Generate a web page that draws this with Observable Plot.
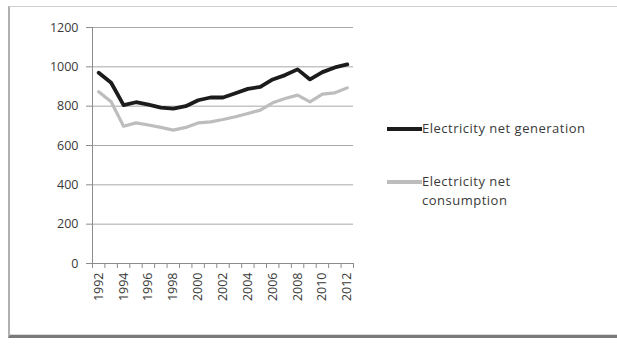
<!DOCTYPE html>
<html>
<head>
<meta charset="utf-8">
<script src="https://cdn.jsdelivr.net/npm/d3@7"></script>
<script src="https://cdn.jsdelivr.net/npm/@observablehq/plot@0.6"></script>
<style>
  html, body { margin: 0; padding: 0; background: #fff; overflow: hidden; }
  #wrap { position: relative; width: 617px; height: 344px; overflow: hidden; font-family: "Open Sans", sans-serif; }
  #frame { position: absolute; left: 8px; top: 6px; width: 700px; height: 328px;
           border-top: 1px solid #cfcfcf; border-left: 2px solid #b0b0b0; border-bottom: 3px solid #7a7a7a;
           box-shadow: 0 -1px 0 #d8d8d8 inset; }
  #chart { position: absolute; left: 0; top: 0; }
  .leg { position: absolute; left: 387px; font-size: 13px; letter-spacing: 0.5px; color: #3a3a3a; display: flex; align-items: flex-start; line-height: 19px; }
  .sw { width: 35px; height: 4px; margin-top: 8px; flex: none; }
</style>
</head>
<body>
<div id="wrap">
  <div id="frame"></div>
  <div id="chart"></div>
  <div class="leg" style="top:119px"><div class="sw" style="background:#1c1c1c"></div><div>Electricity net generation</div></div>
  <div class="leg" style="top:172px"><div class="sw" style="background:#bdbdbd;height:3.5px"></div><div>Electricity net<br>consumption</div></div>
</div>
<script>
const years = [1992,1993,1994,1995,1996,1997,1998,1999,2000,2001,2002,2003,2004,2005,2006,2007,2008,2009,2010,2011,2012];
const generation = [970,919,805,820,808,793,788,800,830,844,844,866,888,898,936,958,987,936,973,997,1012];
const consumption = [873,822,698,715,704,692,678,692,715,720,732,746,763,780,817,839,856,822,861,868,893];
const yTicks = [0,200,400,600,800,1000,1200];
const xLabels = [1992,1994,1996,1998,2000,2002,2004,2006,2008,2010,2012];
const seriesNames = ["Electricity net generation", "Electricity net consumption"];

const rows = [];
years.forEach((y, i) => {
  rows.push({year: y, value: generation[i], series: seriesNames[0]});
  rows.push({year: y, value: consumption[i], series: seriesNames[1]});
});
const boundaries = [years[0] - 0.5, ...years.map(y => y + 0.5)];

const plot = Plot.plot({
  width: 617,
  height: 344,
  marginLeft: 92,
  marginRight: 264,
  marginTop: 27,
  marginBottom: 81,
  style: {fontFamily: "'Open Sans', sans-serif", fontSize: "12.5px", color: "#3a3a3a", background: "transparent"},
  x: {type: "linear", domain: [years[0] - 0.5, years[years.length - 1] + 0.5], label: null},
  y: {domain: [0, 1200], label: null},
  color: {domain: seriesNames, range: ["#1c1c1c", "#bdbdbd"]},
  marks: [
    Plot.gridY(yTicks.filter(d => d > 0), {stroke: "#a8a8a8", strokeOpacity: 1}),
    Plot.ruleY([0], {stroke: "#8c8c8c"}),
    Plot.ruleX([boundaries[0]], {stroke: "#8c8c8c"}),
    Plot.axisY(yTicks, {tickSize: 6, tickPadding: 8, stroke: "#8c8c8c", label: null, tickFormat: d => String(d)}),
    Plot.axisX(boundaries, {tickSize: 5, stroke: "#8c8c8c", tickFormat: () => "", label: null}),
    Plot.axisX(xLabels, {tickSize: 0, tickPadding: 9, tickRotate: -90, label: null, tickFormat: d => String(d)}),
    Plot.line(rows.filter(d => d.series === seriesNames[1]), {x: "year", y: "value", stroke: "series", strokeWidth: 3.2, strokeLinejoin: "round"}),
    Plot.line(rows.filter(d => d.series === seriesNames[0]), {x: "year", y: "value", stroke: "series", strokeWidth: 3.8, strokeLinejoin: "round"})
  ]
});
document.getElementById("chart").appendChild(plot);
</script>
</body>
</html>
